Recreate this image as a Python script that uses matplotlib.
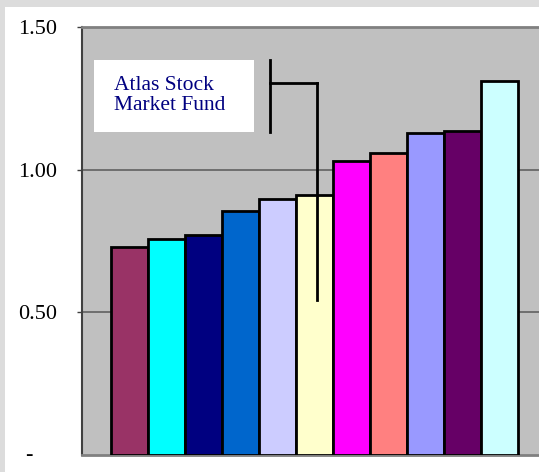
import matplotlib
matplotlib.use("Agg")
import matplotlib.pyplot as plt
from matplotlib.patches import Rectangle

# Fund returns, lowest to highest
funds = ["Fund A", "Fund B", "Fund C", "Fund D", "Fund E", "Atlas Stock Market Fund",
         "Fund G", "Fund H", "Fund I", "Fund J", "Fund K"]
values = [0.73, 0.757, 0.771, 0.855, 0.897, 0.912, 1.031, 1.058, 1.128, 1.135, 1.31]
colors = ["#993366", "#00FFFF", "#000080", "#0066CC", "#CCCCFF", "#FFFFCC",
          "#FF00FF", "#FF8080", "#9999FF", "#660066", "#CCFFFF"]
tick_vals = [0.5, 1.0, 1.5]
tick_labels = ["0.50", "1.00", "1.50"]
callout = "Atlas Stock\nMarket Fund"
callout_idx = 5

serif = "Liberation Serif"

fig = plt.figure(figsize=(5.39, 4.72), dpi=100, facecolor="#DCDCDC")
# white panel inside the grey frame
fig.patches.append(Rectangle((5 / 539, 0), 1, (472 - 7) / 472, transform=fig.transFigure,
                             facecolor="white", edgecolor="none", zorder=-10))

ax = fig.add_axes([82 / 539, 17 / 472, 457 / 539, 428 / 472])
ax.set_facecolor("#C0C0C0")

x = range(len(values))
ax.bar(x, values, width=1.0, color=colors, edgecolor="black", linewidth=2, zorder=3)

ax.set_xlim(-1.284, 11.07)
ax.set_ylim(0, 1.5)

# horizontal gridlines
for v in tick_vals[:-1]:
    ax.axhline(v, color="#606060", linewidth=1.2, zorder=1)

ax.set_yticks(tick_vals)
ax.set_yticklabels(tick_labels, fontfamily=serif, fontsize=16)
ax.tick_params(axis="y", direction="out", length=3.6, width=1, color="#404040", pad=14.4)
ax.set_xticks([])
ax.text(-0.109, 0, "-", transform=ax.get_yaxis_transform(), ha="right", va="center",
        fontfamily=serif, fontsize=16)

ax.spines["left"].set_color("#404040")
ax.spines["left"].set_linewidth(1.5)
ax.spines["top"].set_color("#808080")
ax.spines["top"].set_linewidth(2)
ax.spines["bottom"].set_color("#808080")
ax.spines["bottom"].set_linewidth(2)
ax.spines["right"].set_visible(False)

# callout box and bracket pointing at the fund
ax.add_patch(Rectangle((-0.96, 1.132), 4.325, 0.252, facecolor="white", edgecolor="none", zorder=4))
ax.text(-0.42, 1.26, callout, fontfamily=serif, fontsize=15.5, color="#000080",
        ha="left", va="center", linespacing=1.1, zorder=5)
lx = callout_idx + 0.07
ax.plot([3.8, 3.8], [1.132, 1.384], color="black", linewidth=2, zorder=5)
ax.plot([3.8, lx], [1.304, 1.304], color="black", linewidth=2, zorder=5)
ax.plot([lx, lx], [1.304, 0.543], color="black", linewidth=2, zorder=5)

fig.savefig("out.png", dpi=100, facecolor=fig.get_facecolor())
